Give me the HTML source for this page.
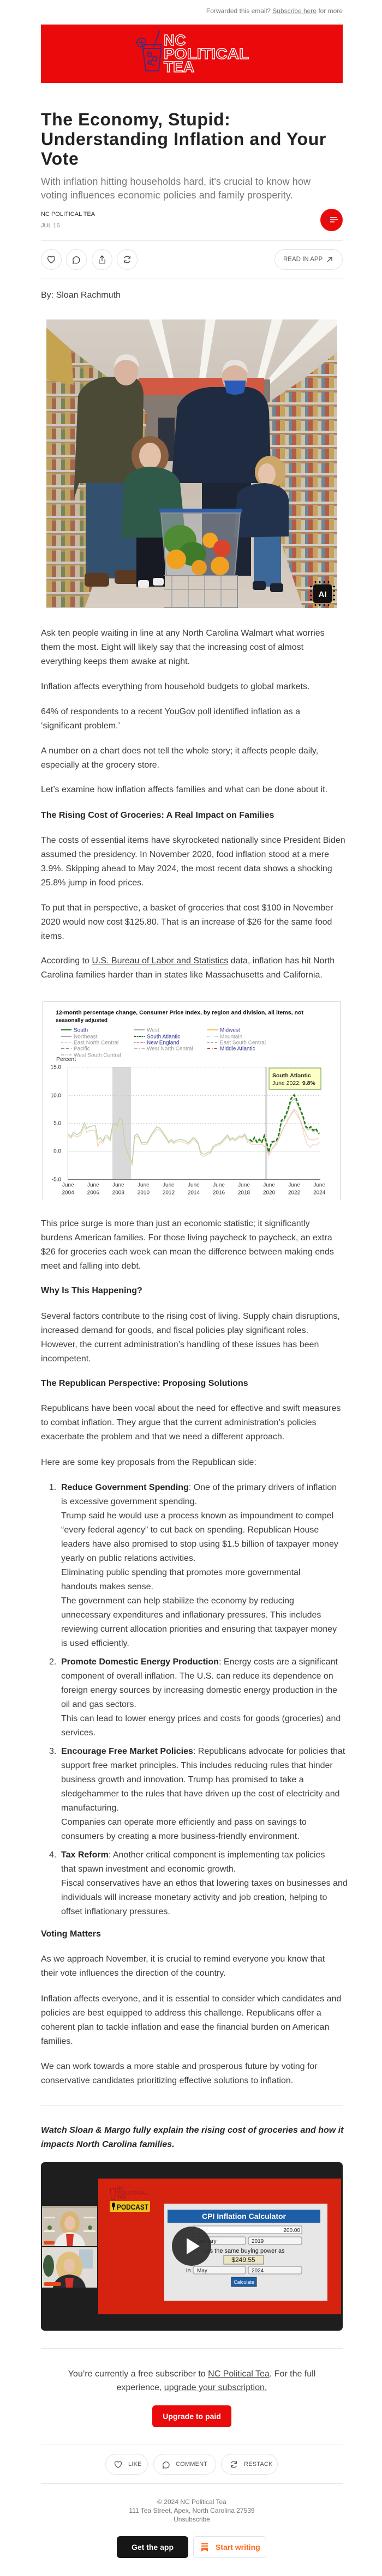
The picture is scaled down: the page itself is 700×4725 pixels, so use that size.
<!DOCTYPE html>
<html><head><meta charset="utf-8">
<style>
*{box-sizing:border-box}
html,body{margin:0;padding:0}
body{width:700px;height:4725px;position:relative;background:#fff;overflow:hidden;font-family:"Liberation Sans",Arial,sans-serif;color:#3d3d3d}
.a{position:absolute}
.p{position:absolute;left:75px;font-size:16px;line-height:26px;color:#3d3d3d;white-space:nowrap}
.h{font-weight:bold;color:#262626}
.li{position:absolute;left:112px;font-size:16px;line-height:26px;color:#3d3d3d;white-space:nowrap}
.li b{color:#262626}
.num{position:absolute;left:90px;font-size:16px;line-height:26px;color:#3d3d3d}
.hr{position:absolute;left:75px;width:553px;height:1px;background:#e4e4e4}
.circ{position:absolute;width:38px;height:38px;border:1px solid #e2e2e2;border-radius:50%;top:457px}
.circ svg{position:absolute;left:9px;top:9px}
.pill{position:absolute;top:4501px;height:38px;border:1px solid #e2e2e2;border-radius:19px;font-size:11px;color:#555;line-height:36px;letter-spacing:.2px}
.pill svg{position:absolute;left:14px;top:10px}
u{text-decoration:underline}
</style></head>
<body>

<!-- header -->
<div class="a" style="right:72px;top:12px;font-size:12px;line-height:16px;color:#777;white-space:nowrap">Forwarded this email? <u>Subscribe here</u> for more</div>

<div class="a" style="left:75px;top:45px;width:553px;height:107px;background:#ea0a0c">
<svg width="553" height="107" viewBox="0 0 553 107" style="position:absolute;left:0;top:0">
 <g fill="none" stroke="#3e2c84" stroke-width="2" stroke-linejoin="round" stroke-linecap="round">
  <circle cx="184" cy="33" r="8"/>
  <path d="M180 33 L188 33 M184 29 L184 37"/>
  <path d="M186 37 L221 37 L216 85 L192 85 Z"/>
  <path d="M188 44 L219 44"/>
  <path d="M207 40 L217 12"/>
  <path d="M196 52 l6 0 l0 6 l-6 0 z M206 58 l7 2 l-2 7 l-7 -2 z M197 66 l6 1 l-1 6 l-6 -1 z M204 74 l5 1"/>
 </g>
 <g font-family="Liberation Sans, Arial, sans-serif" font-weight="bold" font-size="28" fill="#ea0a0c" stroke="#fff" stroke-width="1.4">
  <text x="225" y="38">NC</text>
  <text x="225" y="63" textLength="156" lengthAdjust="spacingAndGlyphs">POLITICAL</text>
  <text x="225" y="87">TEA</text>
 </g>
</svg>
</div>

<!-- title -->
<div class="a" style="left:75px;top:201px;font-size:32px;line-height:36px;font-weight:bold;color:#222;letter-spacing:0.6px;white-space:nowrap">The Economy, Stupid:<br>Understanding Inflation and Your<br>Vote</div>
<div class="a" style="left:75px;top:321px;font-size:18px;line-height:25px;color:#777;white-space:nowrap;letter-spacing:0.1px">With inflation hitting households hard, it's crucial to know how<br>voting influences economic policies and family prosperity.</div>

<div class="a" style="left:75px;top:386px;font-size:11px;line-height:14px;color:#333;white-space:nowrap">NC POLITICAL TEA</div>
<div class="a" style="left:75px;top:407px;font-size:11px;line-height:14px;color:#777;white-space:nowrap">JUL 16</div>
<div class="a" style="left:587px;top:383px;width:41px;height:41px;border-radius:50%;background:#ea0a0c;overflow:hidden">
 <div style="position:absolute;left:12px;top:15px;width:4px;height:10px;border:1px solid #4a3a8a"></div>
 <div style="position:absolute;left:18px;top:15px;width:12px;height:2px;background:#f6c6c6"></div>
 <div style="position:absolute;left:18px;top:19px;width:14px;height:2px;background:#f6c6c6"></div>
 <div style="position:absolute;left:18px;top:23px;width:8px;height:2px;background:#f6c6c6"></div>
</div>

<div class="hr" style="top:441px"></div>
<div class="circ" style="left:75px"><svg width="18" height="18" viewBox="0 0 24 24" fill="none" stroke="#444" stroke-width="1.8" stroke-linejoin="round"><path d="M12 20.5S3.5 15 3.5 9A4.5 4.5 0 0 1 12 6.5 4.5 4.5 0 0 1 20.5 9c0 6-8.5 11.5-8.5 11.5z"/></svg></div>
<div class="circ" style="left:121px"><svg width="18" height="18" viewBox="0 0 24 24" fill="none" stroke="#444" stroke-width="1.8" stroke-linejoin="round"><path d="M5 17.5A8 8 0 1 1 8.5 20.5L3.5 21.5z"/></svg></div>
<div class="circ" style="left:168px"><svg width="18" height="18" viewBox="0 0 24 24" fill="none" stroke="#444" stroke-width="1.8" stroke-linecap="round" stroke-linejoin="round"><path d="M12 3v12M7.5 7.5L12 3l4.5 4.5M5 12v9h14v-9"/></svg></div>
<div class="circ" style="left:214px"><svg width="18" height="18" viewBox="0 0 24 24" fill="none" stroke="#444" stroke-width="1.8" stroke-linecap="round" stroke-linejoin="round"><path d="M19 9A7.5 7.5 0 0 0 5.5 8M5 15a7.5 7.5 0 0 0 13.5 1M19 4v5h-5M5 20v-5h5"/></svg></div>
<div class="a" style="left:503px;top:457px;width:125px;height:38px;border:1px solid #e2e2e2;border-radius:19px;font-size:11.5px;line-height:36px;color:#555;white-space:nowrap"><span style="position:absolute;left:15px">READ IN APP</span>
<svg style="position:absolute;left:94px;top:12px" width="12" height="12" viewBox="0 0 12 12" fill="none" stroke="#555" stroke-width="1.5"><path d="M2 10L10 2M4 2h6v6"/></svg></div>
<div class="hr" style="top:511px"></div>

<div class="p" style="top:529px">By: Sloan Rachmuth</div>

<!-- photo -->
<svg class="a" style="left:85px;top:586px" width="533" height="529" viewBox="0 0 533 529">
 <defs>
  <linearGradient id="ceil" x1="0" y1="0" x2="0" y2="1"><stop offset="0" stop-color="#d6cfc6"/><stop offset="1" stop-color="#b3a597"/></linearGradient>
  <linearGradient id="floor" x1="0" y1="0" x2="0" y2="1"><stop offset="0" stop-color="#c4b8ab"/><stop offset="1" stop-color="#d8cec3"/></linearGradient>
  <pattern id="shelf" width="34" height="28" patternUnits="userSpaceOnUse">
   <rect width="34" height="28" fill="#b89868"/>
   <rect x="0" y="2" width="10" height="22" fill="#cfae60"/>
   <rect x="10" y="5" width="8" height="19" fill="#b0664c"/>
   <rect x="18" y="3" width="9" height="21" fill="#d6cbb0"/>
   <rect x="27" y="6" width="7" height="18" fill="#7a8a5c"/>
   <rect x="0" y="24" width="34" height="4" fill="#dedcd8"/>
  </pattern>
  <pattern id="shelf2" width="30" height="26" patternUnits="userSpaceOnUse">
   <rect width="30" height="26" fill="#b88a62"/>
   <rect x="0" y="3" width="8" height="19" fill="#c0594a"/>
   <rect x="8" y="2" width="9" height="20" fill="#d2ae5e"/>
   <rect x="17" y="4" width="7" height="18" fill="#dcd0bc"/>
   <rect x="24" y="3" width="6" height="19" fill="#6a8ea0"/>
   <rect x="0" y="22" width="30" height="4" fill="#e0ded9"/>
  </pattern>
 </defs>
 <rect width="533" height="529" fill="url(#ceil)"/>
 <rect x="0" y="230" width="533" height="299" fill="url(#floor)"/>
 <polygon points="188,0 211,0 233,107 224,107" fill="#f6f4ef"/>
 <polygon points="292,0 310,0 292,107 280,107" fill="#f6f4ef"/>
 <polygon points="413,0 433,0 399,110 386,110" fill="#f6f4ef"/>
 <polygon points="500,0 533,0 533,10 410,118 399,118" fill="#f6f4ef"/>
 <rect x="140" y="110" width="270" height="110" fill="#857a72"/>
 <rect x="170" y="107" width="229" height="32" fill="#d25a44"/>
 <rect x="205" y="180" width="30" height="80" fill="#2e3340"/>
 <polygon points="0,15 45,55 170,150 185,175 175,250 70,529 0,529" fill="url(#shelf)"/>
 <polygon points="0,15 45,55 50,120 0,110" fill="#d6b050"/>
 <polygon points="533,60 470,110 380,170 370,200 380,260 470,529 533,529" fill="url(#shelf2)"/>
 <polygon points="0,15 45,55 170,150 185,175 175,250 70,529 0,529" fill="#7a6a5a" fill-opacity=".18"/>
 <polygon points="533,60 470,110 380,170 370,200 380,260 470,529 533,529" fill="#7a6a5a" fill-opacity=".15"/>
 <!-- left man -->
 <rect x="72" y="290" width="94" height="185" fill="#33506e"/>
 <rect x="70" y="465" width="45" height="25" rx="6" fill="#5a3a22"/>
 <rect x="125" y="460" width="45" height="25" rx="6" fill="#5a3a22"/>
 <path d="M50 330 L58 140 Q70 110 110 105 L160 105 Q178 115 178 140 L175 300 L60 300 Z" fill="#4b4a36"/>
 <ellipse cx="146" cy="95" rx="22" ry="26" fill="#d9b4a0"/>
 <path d="M124 88 Q126 64 146 64 Q168 64 170 88 Q160 74 146 74 Q132 74 124 88Z" fill="#e8e4e0"/>
 <!-- right man -->
 <rect x="285" y="260" width="90" height="210" fill="#1d2535"/>
 <path d="M229 300 L240 160 Q255 128 300 124 L370 124 Q405 130 408 170 L412 300 Z" fill="#1f2b40"/>
 <ellipse cx="345" cy="106" rx="23" ry="28" fill="#d9b4a0"/>
 <path d="M322 98 Q324 74 345 74 Q368 74 369 98 Q358 84 345 84 Q332 84 322 98Z" fill="#e6e2de"/>
 <path d="M326 112 L366 112 L362 134 Q345 142 330 134 Z" fill="#2a5bb8"/>
 <!-- girl -->
 <rect x="165" y="390" width="52" height="100" fill="#171a22"/>
 <rect x="168" y="478" width="20" height="14" rx="4" fill="#eeeeee"/>
 <rect x="195" y="474" width="20" height="14" rx="4" fill="#eeeeee"/>
 <ellipse cx="190" cy="250" rx="34" ry="36" fill="#8a6040"/>
 <ellipse cx="190" cy="250" rx="20" ry="24" fill="#e3c0a8"/>
 <path d="M137 400 L142 300 Q150 272 190 270 Q236 272 245 300 L253 380 L230 400 Z" fill="#2f5a4a"/>
 <!-- boy -->
 <rect x="380" y="395" width="50" height="95" fill="#3b6898"/>
 <rect x="378" y="480" width="24" height="16" rx="4" fill="#1d2230"/>
 <rect x="410" y="484" width="24" height="16" rx="4" fill="#1d2230"/>
 <ellipse cx="410" cy="280" rx="28" ry="30" fill="#cda66a"/>
 <ellipse cx="404" cy="284" rx="16" ry="20" fill="#e6c4ac"/>
 <path d="M343 400 L350 320 Q360 302 400 300 Q440 304 444 330 L444 398 Z" fill="#22324c"/>
 <!-- cart -->
 <rect x="206" y="347" width="153" height="8" rx="3" fill="#2f5fa8"/>
 <path d="M210 355 L355 355 L345 470 L220 470 Z" fill="#a8adb3" fill-opacity=".55" stroke="#8c9197" stroke-width="2"/>
 <ellipse cx="245" cy="405" rx="30" ry="28" fill="#4f8a34"/>
 <ellipse cx="268" cy="430" rx="25" ry="22" fill="#3f7a2c"/>
 <circle cx="238" cy="440" r="18" fill="#f0a11e"/>
 <circle cx="300" cy="405" r="14" fill="#f4a423"/>
 <circle cx="322" cy="420" r="16" fill="#d9432e"/>
 <circle cx="318" cy="452" r="17" fill="#f2a020"/>
 <circle cx="280" cy="455" r="14" fill="#e89a22"/>
 <path d="M215 470 L350 470 L350 529 L215 529" fill="none" stroke="#8c9197" stroke-width="2"/>
 <path d="M230 470 V529 M260 470 V529 M290 470 V529 M320 470 V529 M215 495 H350" stroke="#9ea3a9" stroke-width="1.5"/>
 <!-- AI badge -->
 <rect x="489" y="486" width="34" height="34" rx="4" fill="#111"/>
 <path d="M493 484v-4M501 484v-4M509 484v-4M517 484v-4M493 522v4M501 522v4M509 522v4M517 522v4M487 490h-4M487 498h-4M487 506h-4M487 514h-4M525 490h4M525 498h4M525 506h4M525 514h4" stroke="#111" stroke-width="2.5"/>
 <text x="506" y="509" text-anchor="middle" font-family="Liberation Sans, Arial, sans-serif" font-weight="bold" font-size="15" fill="#fff">AI</text>
</svg>

<!-- body text -->
<div class="p" style="top:1149px">Ask ten people waiting in line at any North Carolina Walmart what worries<br>them the most. Eight will likely say that the increasing cost of almost<br>everything keeps them awake at night.</div>
<div class="p" style="top:1247px">Inflation affects everything from household budgets to global markets.</div>
<div class="p" style="top:1293px">64% of respondents to a recent <u>YouGov poll </u>identified inflation as a<br>‘significant problem.’</div>
<div class="p" style="top:1365px">A number on a chart does not tell the whole story; it affects people daily,<br>especially at the grocery store.</div>
<div class="p" style="top:1436px">Let’s examine how inflation affects families and what can be done about it.</div>
<div class="p h" style="top:1483px">The Rising Cost of Groceries: A Real Impact on Families</div>
<div class="p" style="top:1529px">The costs of essential items have skyrocketed nationally since President Biden<br>assumed the presidency. In November 2020, food inflation stood at a mere<br>3.9%. Skipping ahead to May 2024, the most recent data shows a shocking<br>25.8% jump in food prices.</div>
<div class="p" style="top:1653px">To put that in perspective, a basket of groceries that cost $100 in November<br>2020 would now cost $125.80. That is an increase of $26 for the same food<br>items.</div>
<div class="p" style="top:1750px">According to <u>U.S. Bureau of Labor and Statistics</u> data, inflation has hit North<br>Carolina families harder than in states like Massachusetts and California.</div>

<!-- chart -->
<svg class="a" style="left:0;top:1837px" width="700" height="365" viewBox="0 0 700 365" font-family="Liberation Sans, Arial, sans-serif">
 <rect x="78" y="0" width="547" height="365" fill="#fff"/>
 <path d="M78.5 365 V0.5 H624.5 V365" fill="none" stroke="#c4c4c4" stroke-width="1"/>
 <text x="102" y="23.5" font-size="10" font-weight="bold" fill="#111" textLength="454" lengthAdjust="spacingAndGlyphs">12-month percentage change, Consumer Price Index, by region and division, all items, not</text>
 <text x="102" y="37.5" font-size="10" font-weight="bold" fill="#111">seasonally adjusted</text>
 <g font-size="10">
  <line x1="112" y1="52" x2="131" y2="52" stroke="#1e7a1e" stroke-width="2"/><text x="135" y="55.5" fill="#333399">South</text>
  <line x1="246" y1="52" x2="265" y2="52" stroke="#aaa" stroke-width="2"/><text x="269" y="55.5" fill="#999">West</text>
  <line x1="380" y1="52" x2="399" y2="52" stroke="#f2c45a" stroke-width="2"/><text x="403" y="55.5" fill="#333399">Midwest</text>
  <line x1="112" y1="64" x2="131" y2="64" stroke="#aaa" stroke-width="2"/><text x="135" y="67.5" fill="#999">Northeast</text>
  <line x1="246" y1="64" x2="265" y2="64" stroke="#1e7a1e" stroke-width="2" stroke-dasharray="3,1.5"/><text x="269" y="67.5" fill="#333399">South Atlantic</text>
  <line x1="380" y1="64" x2="399" y2="64" stroke="#bbb" stroke-width="1.5" stroke-dasharray="1,1"/><text x="403" y="67.5" fill="#999">Mountain</text>
  <line x1="112" y1="75" x2="131" y2="75" stroke="#bbb" stroke-width="1.2" stroke-dasharray="3,1.5,1,1.5"/><text x="135" y="78.5" fill="#999">East North Central</text>
  <line x1="246" y1="75" x2="265" y2="75" stroke="#e05050" stroke-width="1.5" stroke-dasharray="1.5,1"/><text x="269" y="78.5" fill="#333399">New England</text>
  <line x1="380" y1="75" x2="399" y2="75" stroke="#999" stroke-width="1.5" stroke-dasharray="4,3"/><text x="403" y="78.5" fill="#999">East South Central</text>
  <line x1="112" y1="86" x2="131" y2="86" stroke="#999" stroke-width="2" stroke-dasharray="6,3"/><text x="135" y="89.5" fill="#999">Pacific</text>
  <line x1="246" y1="86" x2="265" y2="86" stroke="#aaa" stroke-width="1.5" stroke-dasharray="6,3,1.5,3"/><text x="269" y="89.5" fill="#999">West North Central</text>
  <line x1="380" y1="86" x2="399" y2="86" stroke="#d83c3c" stroke-width="2" stroke-dasharray="5,3,1.5,3"/><text x="403" y="89.5" fill="#333399">Middle Atlantic</text>
  <line x1="112" y1="98" x2="131" y2="98" stroke="#aaa" stroke-width="1.5" stroke-dasharray="6,2,1.5,2,1.5,2"/><text x="135" y="101.5" fill="#999">West South Central</text>
 </g>
 <text x="103" y="109" font-size="10.5" fill="#333">Percent</text>
 <rect x="206" y="120" width="34" height="206" fill="#d9d9d9"/>
 <rect x="486" y="120" width="3.5" height="206" fill="#d9d9d9"/>
 <g stroke="#c8c8c8" stroke-width="1" stroke-dasharray="1,2">
  <line x1="124" y1="120.5" x2="587" y2="120.5"/>
  <line x1="124" y1="172.5" x2="587" y2="172.5"/>
  <line x1="124" y1="223.5" x2="587" y2="223.5"/>
 </g>
 <line x1="124" y1="274.5" x2="587" y2="274.5" stroke="#d6d6d6" stroke-width="1"/>
 <line x1="124.5" y1="120" x2="124.5" y2="326" stroke="#999" stroke-width="1"/>
 <line x1="124" y1="326.5" x2="587" y2="326.5" stroke="#777" stroke-width="1"/>
 <g font-size="10" fill="#333" text-anchor="end">
  <text x="112" y="123.5">15.0</text><text x="112" y="175.5">10.0</text><text x="112" y="226.5">5.0</text><text x="112" y="277.5">0.0</text><text x="112" y="329.5">-5.0</text>
 </g>
 <g font-size="10" fill="#333" text-anchor="middle">
  <text x="124.7" y="339.5">June</text><text x="124.7" y="353.5">2004</text>
  <text x="170.8" y="339.5">June</text><text x="170.8" y="353.5">2006</text>
  <text x="216.8" y="339.5">June</text><text x="216.8" y="353.5">2008</text>
  <text x="262.9" y="339.5">June</text><text x="262.9" y="353.5">2010</text>
  <text x="308.9" y="339.5">June</text><text x="308.9" y="353.5">2012</text>
  <text x="354.9" y="339.5">June</text><text x="354.9" y="353.5">2014</text>
  <text x="401" y="339.5">June</text><text x="401" y="353.5">2016</text>
  <text x="447" y="339.5">June</text><text x="447" y="353.5">2018</text>
  <text x="493.1" y="339.5">June</text><text x="493.1" y="353.5">2020</text>
  <text x="539.1" y="339.5">June</text><text x="539.1" y="353.5">2022</text>
  <text x="585.2" y="339.5">June</text><text x="585.2" y="353.5">2024</text>
 </g>
 <polyline fill="none" stroke="#f2d9b4" stroke-width="1.6" points="124.7,246 130,251 134.5,244 141.2,249 148,245 154.7,229 159.2,240 163.7,237 170.4,236 174.9,237 179.4,266 183.8,256 188.3,260 192.8,250 197.3,250 201.8,256 206.3,232 210.7,232 215.2,234 219.7,218 224.2,222 228.7,268 233.2,282 237.7,290 242.1,300 246.6,252 251.1,247 255.6,252 260.1,262 264.6,262 269,262 278,246 287,234 291.5,235 296,240 304.9,252 309.4,260 313.9,256 318.4,261 322.8,258 331.8,257 340.8,260 345.3,262 354.2,252 358.7,256 363.2,262 367.7,280 372.2,284 376.7,283 381.1,280 385.6,279 390.1,270 394.6,266 403.6,262 412.5,253 417,248 421.5,256 426,252 430.5,256 435,252 439.4,249 443.9,251 448.4,246 452.9,256 457.4,258 466.3,257 475.3,258 484.3,252 492.4,282 502.2,264 511.2,252 520.2,230 529.1,214 539,200 547,212 556,232 565,252 574,254 585.2,250"/>
 <polyline fill="none" stroke="#f2baba" stroke-width="1.4" stroke-dasharray="2,1" points="452.9,258 461.9,262 470.8,262 479.8,262 488.8,270 492.4,282 497.7,272 506.7,262 515.7,240 524.6,222 533.6,205 539,197 545,203 552,222 558,248 563,262 568,268 574,262 580,264 585,258"/>
 <polyline fill="none" stroke="#b9d4b0" stroke-width="1.6" points="124.7,243 130,248 134.5,239.7 141.2,244.7 148,239.7 154.7,222.3 159.2,233 163.7,229.7 170.4,228 174.9,228 179.4,253 183.8,249.7 188.3,256.3 192.8,246.3 197.3,246.3 201.8,253 206.3,226.3 210.7,224.7 215.2,228 219.7,213 224.2,218 228.7,263 233.2,276.3 237.7,286.3 242.1,296.3 246.6,246.3 251.1,243 255.6,249.7 260.1,259.7 264.6,258 269,259.7 278,243 287,229.7 291.5,231.3 296,236.3 304.9,249.7 309.4,258 313.9,253 318.4,258 322.8,254.7 331.8,253 340.8,256.3 345.3,259.7 354.2,249 358.7,253 363.2,259.7 367.7,276.3 372.2,279.7 376.7,279.7 381.1,276.3 385.6,276.3 390.1,266.3 394.6,263 403.6,259.7 412.5,249.7 417,244.7 421.5,253 426,249.7 430.5,253 435,249.7 439.4,246.3 443.9,248 448.4,243 452.9,253 457.4,254.7 461.9,258 466.3,251 470.8,259 475.3,254 479.8,259 484.3,248 488.8,261 492.4,278 497.7,260 502.2,258 506.7,256 511.2,246 515.7,222 520.2,219 524.6,210 529.1,198 533.6,184 539,178 542.6,183 547,194 551.5,204 556,217 560.5,232 565,236 569.5,233 574,239 578.4,236 582.9,242 585.2,244"/>
 <polyline fill="none" stroke="#237a18" stroke-width="2.6" stroke-dasharray="6,3" points="457.4,253 461.9,256.3 466.3,249.7 470.8,258 475.3,253 479.8,258 484.3,246.3 488.8,259.7 492.4,276.3 497.7,258 502.2,256.3 506.7,254.7 511.2,243 515.7,218 520.2,215.7 524.6,206.3 529.1,193 533.6,178 539,171.3 542.6,178 547,189.7 551.5,199.7 556,213 560.5,229.7 565,233 569.5,229.7 574,236.3 578.4,233 582.9,239.7 585.2,242.3"/>
 <rect x="494" y="123" width="95" height="39" fill="#000" opacity=".12"/>
 <rect x="493" y="122" width="95" height="39" fill="#ffffc8" stroke="#5a9a3a" stroke-width="1"/>
 <text x="499" y="139" font-size="10.5" font-weight="bold" fill="#222">South Atlantic</text>
 <text x="499" y="153" font-size="10.5" fill="#222">June 2022: <tspan font-weight="bold">9.8%</tspan></text>
</svg>

<div class="p" style="top:2232px">This price surge is more than just an economic statistic; it significantly<br>burdens American families. For those living paycheck to paycheck, an extra<br>$26 for groceries each week can mean the difference between making ends<br>meet and falling into debt.</div>
<div class="p h" style="top:2355px">Why Is This Happening?</div>
<div class="p" style="top:2402px">Several factors contribute to the rising cost of living. Supply chain disruptions,<br>increased demand for goods, and fiscal policies play significant roles.<br>However, the current administration’s handling of these issues has been<br>incompetent.</div>
<div class="p h" style="top:2525px">The Republican Perspective: Proposing Solutions</div>
<div class="p" style="top:2571px">Republicans have been vocal about the need for effective and swift measures<br>to combat inflation. They argue that the current administration’s policies<br>exacerbate the problem and that we need a different approach.</div>
<div class="p" style="top:2670px">Here are some key proposals from the Republican side:</div>

<div class="num" style="top:2716px">1.</div>
<div class="li" style="top:2716px"><b>Reduce Government Spending</b>: One of the primary drivers of inflation<br>is excessive government spending.<br>Trump said he would use a process known as impoundment to compel<br>“every federal agency” to cut back on spending. Republican House<br>leaders have also promised to stop using $1.5 billion of taxpayer money<br>yearly on public relations activities.<br>Eliminating public spending that promotes more governmental<br>handouts makes sense.<br>The government can help stabilize the economy by reducing<br>unnecessary expenditures and inflationary pressures. This includes<br>reviewing current allocation priorities and ensuring that taxpayer money<br>is used efficiently.</div>
<div class="num" style="top:3036px">2.</div>
<div class="li" style="top:3036px"><b>Promote Domestic Energy Production</b>: Energy costs are a significant<br>component of overall inflation. The U.S. can reduce its dependence on<br>foreign energy sources by increasing domestic energy production in the<br>oil and gas sectors.<br>This can lead to lower energy prices and costs for goods (groceries) and<br>services.</div>
<div class="num" style="top:3200px">3.</div>
<div class="li" style="top:3200px"><b>Encourage Free Market Policies</b>: Republicans advocate for policies that<br>support free market principles. This includes reducing rules that hinder<br>business growth and innovation. Trump has promised to take a<br>sledgehammer to the rules that have driven up the cost of electricity and<br>manufacturing.<br>Companies can operate more efficiently and pass on savings to<br>consumers by creating a more business-friendly environment.</div>
<div class="num" style="top:3390px">4.</div>
<div class="li" style="top:3390px"><b>Tax Reform</b>: Another critical component is implementing tax policies<br>that spawn investment and economic growth.<br>Fiscal conservatives have an ethos that lowering taxes on businesses and<br>individuals will increase monetary activity and job creation, helping to<br>offset inflationary pressures.</div>

<div class="p h" style="top:3535px">Voting Matters</div>
<div class="p" style="top:3581px">As we approach November, it is crucial to remind everyone you know that<br>their vote influences the direction of the country.</div>
<div class="p" style="top:3654px">Inflation affects everyone, and it is essential to consider which candidates and<br>policies are best equipped to address this challenge. Republicans offer a<br>coherent plan to tackle inflation and ease the financial burden on American<br>families.</div>
<div class="p" style="top:3778px">We can work towards a more stable and prosperous future by voting for<br>conservative candidates prioritizing effective solutions to inflation.</div>
<div class="hr" style="top:3862px"></div>
<div class="p h" style="top:3895px;font-style:italic">Watch Sloan &amp; Margo fully explain the rising cost of groceries and how it<br>impacts North Carolina families.</div>

<!-- video -->
<svg class="a" style="left:75px;top:3966px" width="553" height="309" viewBox="0 0 553 309" font-family="Liberation Sans, Arial, sans-serif">
 <rect width="553" height="309" rx="7" fill="#1e1e1e"/>
 <rect x="105" y="30" width="445" height="249" fill="#d6230f"/>
 <!-- webcam 1 -->
 <rect x="2" y="80" width="101" height="74" fill="#cdc3b5"/>
 <rect x="2" y="80" width="101" height="4" fill="#b9ad9c"/>
 <rect x="6" y="100" width="20" height="3" fill="#efeae2"/><rect x="78" y="100" width="22" height="3" fill="#efeae2"/>
 <rect x="6" y="125" width="20" height="3" fill="#efeae2"/><rect x="78" y="125" width="22" height="3" fill="#efeae2"/>
 <circle cx="16" cy="120" r="4" fill="#4f7a3c"/><circle cx="90" cy="120" r="4" fill="#4f7a3c"/>
 <ellipse cx="53" cy="112" rx="18" ry="22" fill="#d7b678"/>
 <ellipse cx="53" cy="112" rx="10" ry="13" fill="#e9c3a8"/>
 <path d="M25 154 Q28 130 53 128 Q78 130 81 154 Z" fill="#eeece8"/>
 <path d="M46 132 L60 132 L58 154 L48 154 Z" fill="#d7322a"/>
 <rect x="5" y="144" width="20" height="7" rx="3" fill="#e24a1a"/>
 <!-- webcam 2 -->
 <rect x="2" y="156" width="101" height="74" fill="#e0ddd8"/>
 <rect x="70" y="160" width="25" height="35" fill="#b8c8d0"/>
 <ellipse cx="14" cy="190" rx="10" ry="20" fill="#3f5a3a"/>
 <ellipse cx="52" cy="192" rx="24" ry="28" fill="#dfc07e"/>
 <ellipse cx="52" cy="190" rx="10" ry="13" fill="#e9c3a8"/>
 <path d="M22 230 Q26 208 52 206 Q78 208 82 230 Z" fill="#2a2a30"/>
 <path d="M44 212 L60 212 L58 230 L46 230 Z" fill="#d7322a"/>
 <rect x="5" y="220" width="32" height="7" rx="3" fill="#e24a1a"/>
 <!-- logo + podcast -->
 <g fill="none" stroke="#a8161a" stroke-width="1.2"><path d="M127 48 L137 48 L135 68 L129 68 Z"/></g>
 <g font-size="8.5" font-weight="bold" fill="none" stroke="#b01c1f" stroke-width=".7">
  <text x="139" y="51">NC</text><text x="139" y="59" textLength="58" lengthAdjust="spacingAndGlyphs">POLITICAL</text><text x="139" y="67">TEA</text>
 </g>
 <rect x="126" y="71" width="74" height="20" rx="2" fill="#f4c21c"/>
 <rect x="130" y="74" width="6" height="9" rx="3" fill="#111"/><rect x="132" y="83" width="2" height="5" fill="#111"/>
 <text x="139" y="87" font-size="14" font-weight="bold" fill="#111" textLength="58" lengthAdjust="spacingAndGlyphs">PODCAST</text>
 <!-- calculator -->
 <rect x="226" y="76" width="299" height="178" fill="#e7e7e7"/>
 <rect x="232" y="87" width="280" height="24" fill="#1d5ea8"/>
 <text x="372" y="104" font-size="14" font-weight="bold" fill="#fff" text-anchor="middle">CPI Inflation Calculator</text>
 <rect x="279" y="117" width="199" height="14" fill="#fff" stroke="#888"/>
 <text x="475" y="128" font-size="10" fill="#222" text-anchor="end">200.00</text>
 <rect x="279" y="137" width="96" height="14" rx="3" fill="#f4f4f4" stroke="#888"/>
 <text x="286" y="148" font-size="10" fill="#222">January</text>
 <rect x="380" y="137" width="98" height="14" rx="3" fill="#f4f4f4" stroke="#888"/>
 <text x="386" y="148" font-size="10" fill="#222">2019</text>
 <text x="372" y="166" font-size="11" fill="#222" text-anchor="middle">has the same buying power as</text>
 <rect x="335" y="171" width="73" height="16" fill="#ece5c5" stroke="#777"/>
 <text x="371" y="183" font-size="12" fill="#222" text-anchor="middle">$249.55</text>
 <text x="266" y="202" font-size="11" fill="#222">in</text>
 <rect x="279" y="191" width="96" height="14" rx="3" fill="#f4f4f4" stroke="#888"/>
 <text x="286" y="202" font-size="10" fill="#222">May</text>
 <rect x="380" y="191" width="98" height="14" rx="3" fill="#f4f4f4" stroke="#888"/>
 <text x="386" y="202" font-size="10" fill="#222">2024</text>
 <rect x="349" y="211" width="46" height="17" fill="#1d5ea8" stroke="#234"/>
 <text x="372" y="223" font-size="9" fill="#fff" text-anchor="middle">Calculate</text>
 <circle cx="276" cy="154" r="36" fill="#2b2b2b" fill-opacity=".93"/>
 <polygon points="267,139 267,169 291,154" fill="#fff"/>
</svg>

<div class="hr" style="top:4307px"></div>
<div class="a" style="left:75px;top:4342px;width:553px;text-align:center;font-size:16px;line-height:25px;color:#444;white-space:nowrap">You’re currently a free subscriber to <u>NC Political Tea</u>. For the full<br>experience, <u>upgrade your subscription.</u></div>
<div class="a" style="left:279px;top:4412px;width:145px;height:40px;border-radius:6px;background:#ea0a0c;color:#fff;font-weight:bold;font-size:14px;line-height:40px;text-align:center">Upgrade to paid</div>
<div class="hr" style="top:4484px"></div>

<div class="pill" style="left:193px;width:78px"><svg width="17" height="17" viewBox="0 0 24 24" fill="none" stroke="#555" stroke-width="1.8" stroke-linejoin="round"><path d="M12 20.5S3.5 15 3.5 9A4.5 4.5 0 0 1 12 6.5 4.5 4.5 0 0 1 20.5 9c0 6-8.5 11.5-8.5 11.5z"/></svg><span style="position:absolute;left:41px">LIKE</span></div>
<div class="pill" style="left:281px;width:115px"><svg width="17" height="17" viewBox="0 0 24 24" fill="none" stroke="#555" stroke-width="1.8" stroke-linejoin="round"><path d="M5 17.5A8 8 0 1 1 8.5 20.5L3.5 21.5z"/></svg><span style="position:absolute;left:40px">COMMENT</span></div>
<div class="pill" style="left:405px;width:104px"><svg width="17" height="17" viewBox="0 0 24 24" fill="none" stroke="#555" stroke-width="1.8" stroke-linecap="round" stroke-linejoin="round"><path d="M19 9A7.5 7.5 0 0 0 5.5 8M5 15a7.5 7.5 0 0 0 13.5 1M19 4v5h-5M5 20v-5h5"/></svg><span style="position:absolute;left:41px">RESTACK</span></div>
<div class="hr" style="top:4555px"></div>

<div class="a" style="left:75px;top:4581px;width:553px;text-align:center;font-size:12px;line-height:16px;color:#777;white-space:nowrap">© 2024 NC Political Tea<br>111 Tea Street, Apex, North Carolina 27539<br>Unsubscribe</div>

<div class="a" style="left:214px;top:4652px;width:131px;height:40px;border-radius:6px;background:#161616;color:#fff;font-weight:bold;font-size:14px;line-height:40px;text-align:center">Get the app</div>
<div class="a" style="left:354px;top:4652px;width:134px;height:40px;border-radius:6px;border:1px solid #e4e4e4;background:#fff;color:#ff6719;font-weight:bold;font-size:14px;line-height:38px;white-space:nowrap">
 <svg style="position:absolute;left:14px;top:12px" width="12" height="15" viewBox="0 0 12 15"><rect x="0" y="0" width="12" height="2" fill="#ff6719"/><rect x="0" y="4" width="12" height="2" fill="#ff6719"/><path d="M0 8h12v7L6 11.5 0 15z" fill="#ff6719"/></svg>
 <span style="position:absolute;left:40px">Start writing</span></div>

</body></html>
